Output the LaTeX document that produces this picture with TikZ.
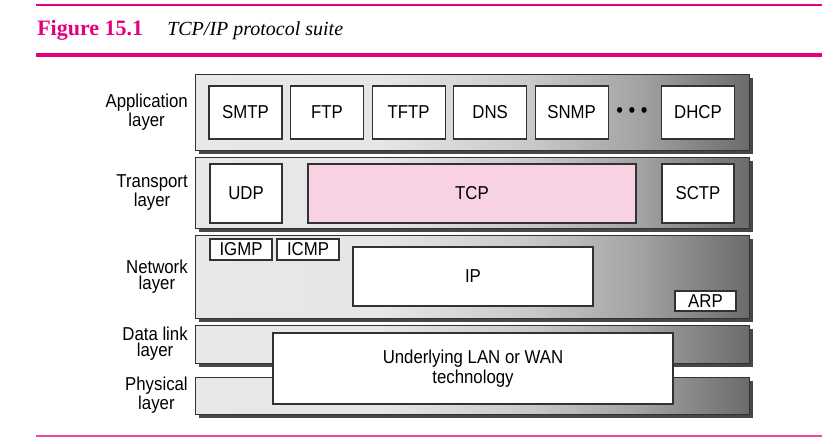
\documentclass[tikz,border=0pt]{standalone}
\usepackage{fontspec}
\setmainfont{Liberation Serif}
\newfontfamily\diagfont[FakeStretch=0.9]{Liberation Sans}
\usepackage{tikz}
\usetikzlibrary{positioning,shadows}
\definecolor{FigPink}{RGB}{228,0,126}
\definecolor{RulePink}{RGB}{240,70,170}
\definecolor{TcpPink}{RGB}{248,210,226}
\definecolor{BoxLine}{RGB}{50,50,50}
\pgfdeclarehorizontalshading{layershade}{100bp}{color(0bp)=(black!9); color(25bp)=(black!9);
    color(42bp)=(black!10); color(55bp)=(black!21); color(65bp)=(black!36);
    color(75bp)=(black!58); color(100bp)=(black!58)}

\begin{document}
\begin{tikzpicture}[x=0.75pt, y=-0.75pt, node distance=5.6pt,
    every node/.style={font=\diagfont\fontsize{14}{12}\selectfont, inner sep=0pt},
    layer/.style={draw=BoxLine, line width=0.8pt, shading=layershade, anchor=north west,
        minimum width=415.5pt, drop shadow={shadow xshift=2.4pt, shadow yshift=-2.4pt,
        fill=black!72, opacity=1}},
    proto/.style={draw=BoxLine, line width=0.8pt, fill=white, align=center,
        minimum width=54.75pt, minimum height=39.75pt},
    small/.style={proto, minimum width=46.5pt, minimum height=15.75pt},
    layername/.style={anchor=east, align=center}]
\useasboundingbox (0,0) rectangle (839,443);
\coordinate (rtl) at (36,5);
\coordinate (rtr) at (822,5);
\coordinate (rml) at (36,54.5);
\coordinate (rmr) at (822,54.5);
\coordinate (rbl) at (36,436);
\coordinate (rbr) at (822,436);
\draw[FigPink, line width=0.8pt] (rtl) -- (rtr);
\draw[FigPink, line width=3pt] (rml) -- (rmr);
\draw[RulePink, line width=1.3pt] (rbl) -- (rbr);
\node[anchor=base west, font=\bfseries\fontsize{16.5}{18}\selectfont, text=FigPink] (fig) at (37,35) {Figure 15.1};
\node[anchor=base west, font=\itshape\fontsize{15}{18}\selectfont] (title) at (167,35) {TCP/IP protocol suite};
\node[layer, minimum height=57pt] (app) at (195,74) {};
\node[layer, minimum height=53.25pt] (trans) at (195,157) {};
\node[layer, minimum height=62.25pt] (net) at (195,235) {};
\node[layer, minimum height=28.5pt] (dl) at (195,325) {};
\node[layer, minimum height=27.75pt] (phy) at (195,377) {};
\node[layername] (appname) at (188,112) {Application\\layer};
\node[layername] (transname) at (188,192.5) {Transport\\layer};
\node[layername] (netname) at (188,276.5) {Network\\layer};
\node[layername] (dlname) at (188,343.5) {Data link\\layer};
\node[layername] (phyname) at (188,395.5) {Physical\\layer};
\node[proto] (smtp) at (245.5,112.5) {SMTP};
\node[proto, right=of smtp] (ftp) {FTP};
\node[proto, right=of ftp] (tftp) {TFTP};
\node[proto, right=of tftp] (dns) {DNS};
\node[proto, right=of dns] (snmp) {SNMP};
\node[font=\diagfont\fontsize{16}{16}\selectfont] (dots) at (632,113) {\textbullet\hspace{4.1pt}\textbullet\hspace{4.1pt}\textbullet};
\node[proto] (dhcp) at (698,112.5) {DHCP};
\node[proto, minimum width=54pt, minimum height=44.25pt] (udp) at (246,193.5) {UDP};
\node[proto, fill=TcpPink, minimum width=246pt, minimum height=44.25pt] (tcp) at (472,193.5) {TCP};
\node[proto, minimum width=54pt, minimum height=44.25pt] (sctp) at (698,193.5) {SCTP};
\node[small] (igmp) at (241,249.5) {IGMP};
\node[small] (icmp) at (308,249.5) {ICMP};
\node[proto, minimum width=180pt, minimum height=44.25pt] (ip) at (473,276.5) {IP};
\node[small, minimum width=45.75pt, minimum height=15pt] (arp) at (705.5,301) {ARP};
\node[proto, minimum width=300pt, minimum height=53.25pt,
    font=\diagfont\fontsize{14}{15}\selectfont] (lanwan) at (473,368.5) {Underlying LAN or WAN\\technology};
\end{tikzpicture}
\end{document}
